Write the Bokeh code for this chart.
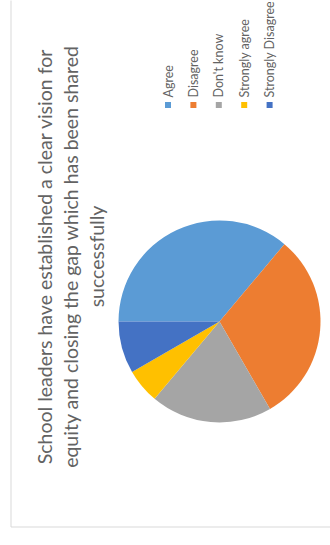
import math
from bokeh.plotting import figure
from bokeh.models import Range1d, ColumnDataSource
from bokeh.core.properties import value
from bokeh.embed import file_html
from bokeh.resources import INLINE

# ---- data ----
categories = ["Agree", "Disagree", "Don't know", "Strongly agree", "Strongly Disagree"]
counts = [13, 11, 7, 2, 3]
colors = ["#5B9BD5", "#ED7D31", "#A5A5A5", "#FFC000", "#4472C4"]
title_lines = [
    "School leaders have established a clear vision for",
    "equity and closing the gap which has been shared",
    "successfully",
]

W, H = 330, 545


def sy(y):
    # convert a screen-y (from top) into data-y (from bottom)
    return H - y


p = figure(width=W, height=H, output_backend="svg", toolbar_location=None,
           x_range=Range1d(0, W), y_range=Range1d(0, H), min_border=0)
p.axis.visible = False
p.xgrid.visible = False
p.ygrid.visible = False
p.outline_line_color = None
p.background_fill_color = "white"
p.border_fill_color = "white"

# chart border (the chart is rotated 90 degrees counter-clockwise)
p.line(x=[10.5, 10.5, W + 5], y=[H + 5, sy(526.5), sy(526.5)],
       line_color="#d9d9d9", line_width=1)

# ---- pie ----
cx, cy, r = 219, sy(321), 101
total = sum(counts)
starts, ends = [], []
cum = 0.0
for c in counts:
    starts.append(math.pi - cum / total * 2 * math.pi)
    cum += c
    ends.append(math.pi - cum / total * 2 * math.pi)

src = ColumnDataSource(dict(start=starts, end=ends, color=colors, cat=categories))
p.wedge(x=cx, y=cy, radius=r, start_angle="start", end_angle="end",
        direction="clock", fill_color="color", line_color=None, source=src)

# ---- title (rotated) ----
title_x = [44, 70, 96]
p.text(x=title_x, y=[sy(256)] * 3, text=title_lines, angle=math.pi / 2,
       text_align="center", text_baseline="alphabetic",
       text_font=value("Lato"), text_font_size="19.5px", text_color="#636363")

# ---- legend (rotated) ----
lx0, ldx = 167.5, 25.4
lx = [lx0 + i * ldx for i in range(len(categories))]
sq = 6
p.rect(x=lx, y=[sy(104.5)] * len(lx), width=sq, height=sq,
       fill_color=colors, line_color=None)
p.text(x=lx, y=[sy(97)] * len(lx), text=categories, angle=math.pi / 2,
       text_align="left", text_baseline="middle",
       text_font=value("Lato"), text_font_size="12.5px", text_color="#636363")

open("out.html", "w").write(file_html(p, INLINE))
